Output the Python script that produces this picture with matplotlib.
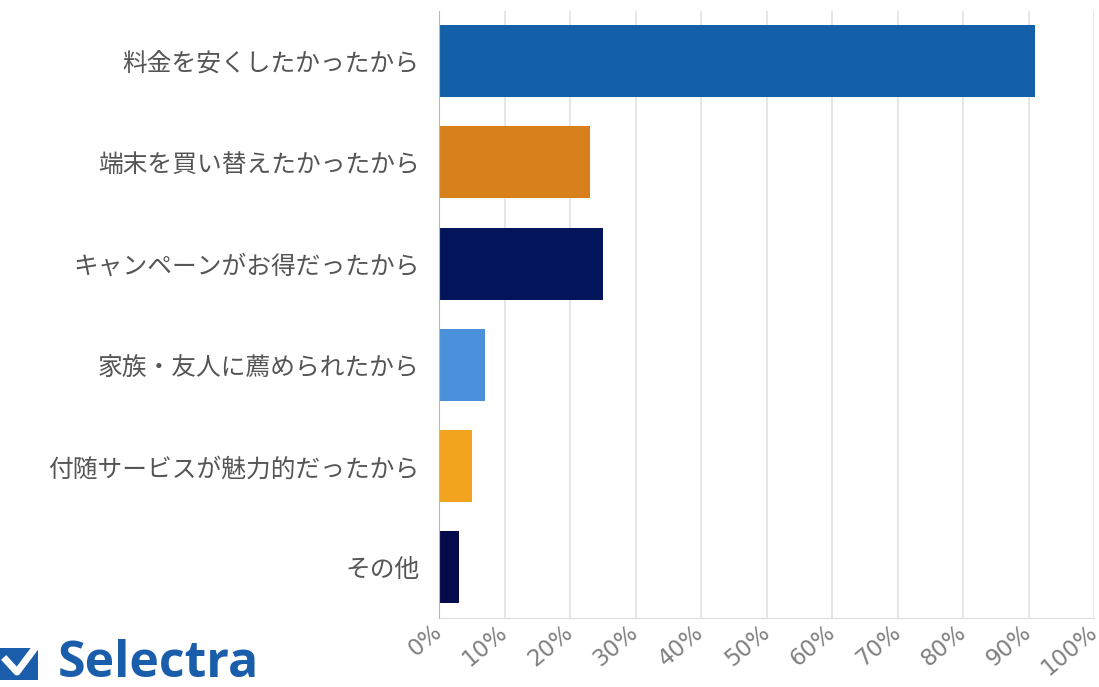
import matplotlib
matplotlib.use("Agg")
import matplotlib.pyplot as plt
from matplotlib.patches import Rectangle
from matplotlib.lines import Line2D

plt.rcParams['font.family'] = ['Noto Sans CJK JP', 'DejaVu Sans']

categories = ["料金を安くしたかったから", "端末を買い替えたかったから", "キャンペーンがお得だったから",
              "家族・友人に薦められたから", "付随サービスが魅力的だったから", "その他"]
values = [91, 23, 25, 7, 5, 3]
colors = ["#1460A8", "#D8801C", "#03145A", "#4A90DA", "#F2A41E", "#050A4A"]
xticks = list(range(0, 101, 10))
xticklabels = [f"{t}%" for t in xticks]

W, H = 1099, 687
fig = plt.figure(figsize=(W / 100, H / 100), dpi=100)
ax = fig.add_axes([439 / W, 1 - 618 / H, (1094 - 439) / W, (618 - 10.5) / H])

ypos = list(range(len(categories)))
ax.barh(ypos, values, height=0.71, color=colors, zorder=3)
ax.set_ylim(len(categories) - 0.5, -0.5)
ax.set_xlim(0, 100)
ax.set_xticks(xticks)
ax.set_xticklabels(xticklabels, rotation=40, ha='right', va='center', rotation_mode='anchor',
                   fontsize=16.5, color='#808080', family=['DejaVu Sans'])
ax.set_yticks(ypos)
ax.set_yticklabels(categories, fontsize=17.8, color='#555555')
ax.tick_params(axis='y', length=0, pad=14)
ax.tick_params(axis='x', length=0, pad=8)
ax.grid(axis='x', color='#e2e2e2', linewidth=1.2, zorder=0)
for s in ['top', 'right']:
    ax.spines[s].set_visible(False)
ax.spines['left'].set_color('#b8b8b8')
ax.spines['left'].set_zorder(4)
ax.spines['bottom'].set_color('#dddddd')

# Selectra logo
fig.text(58 / W, 1 - 677 / H, "Selectra", fontsize=36, fontweight='bold', color='#1A5DAA',
         family=['Open Sans', 'DejaVu Sans'], ha='left', va='baseline')
fig.add_artist(Rectangle((0, 1 - 680 / H), 38 / W, 32 / H, transform=fig.transFigure,
                         color='#1A5DAA', lw=0))
fig.add_artist(Line2D([6 / W, 17 / W, 38 / W], [1 - 660 / H, 1 - 672 / H, 1 - 644 / H],
                      transform=fig.transFigure, color='white', lw=5))

fig.savefig("out.png", dpi=100)
